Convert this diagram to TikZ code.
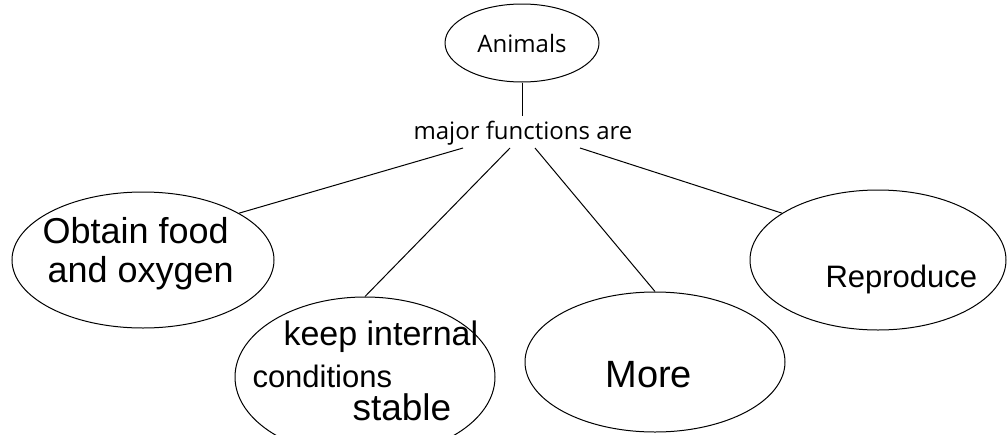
\documentclass[tikz,border=0pt]{standalone}
\usepackage{fontspec}
\setmainfont{Open Sans}
\newfontfamily\hand{Liberation Sans}
\usetikzlibrary{shapes.geometric}
\begin{document}
\begin{tikzpicture}[x=1pt,y=-1pt,line width=1pt,
  bubble/.style={draw,ellipse,inner sep=0pt},
  typed/.style={font=\fontsize{24}{28}\selectfont,inner sep=0pt},
  hw/.style={font=\hand\fontsize{#1}{#1}\selectfont,inner sep=0pt,anchor=base west}]
\useasboundingbox (0,0) rectangle (1007,434);
\clip (0,0) rectangle (1007,434);
% top
\node[bubble,typed,minimum width=154pt,minimum height=78pt] (animals) at (522,43) {Animals};
\node[typed,anchor=base] (mf) at (523,139) {major functions are};
\coordinate (top) at (522,116);
\draw (animals.south) -- (top);
% start points of connectors
\coordinate (s1) at (463,148);
\coordinate (s2) at (510,148);
\coordinate (s3) at (535,148);
\coordinate (s4) at (580,148);
% bubbles
\node[bubble,minimum width=262pt,minimum height=136pt] (obtain) at (143,260) {};
\node[bubble,minimum width=260pt,minimum height=160pt] (keep) at (365,377) {};
\node[bubble,minimum width=260pt,minimum height=140pt] (more) at (655,362) {};
\node[bubble,minimum width=256pt,minimum height=140pt] (repro) at (878,260) {};
% connectors
\draw (s1) -- (obtain.26);
\draw (s2) -- (keep.north);
\draw (s3) -- (more.north);
\draw (s4) -- (repro.154);
% handwritten texts
\node[hw=36] (t1) at (42,243) {Obtain food};
\node[hw=36] (t2) at (47,282) {and oxygen};
\node[hw=34] (t3) at (283,345) {keep internal};
\node[hw=31] (t4) at (252,387) {conditions};
\node[hw=37] (t5) at (352,420) {stable};
\node[hw=38] (t6) at (605,387) {More};
\node[hw=31] (t7) at (825,287) {Reproduce};
\end{tikzpicture}
\end{document}
